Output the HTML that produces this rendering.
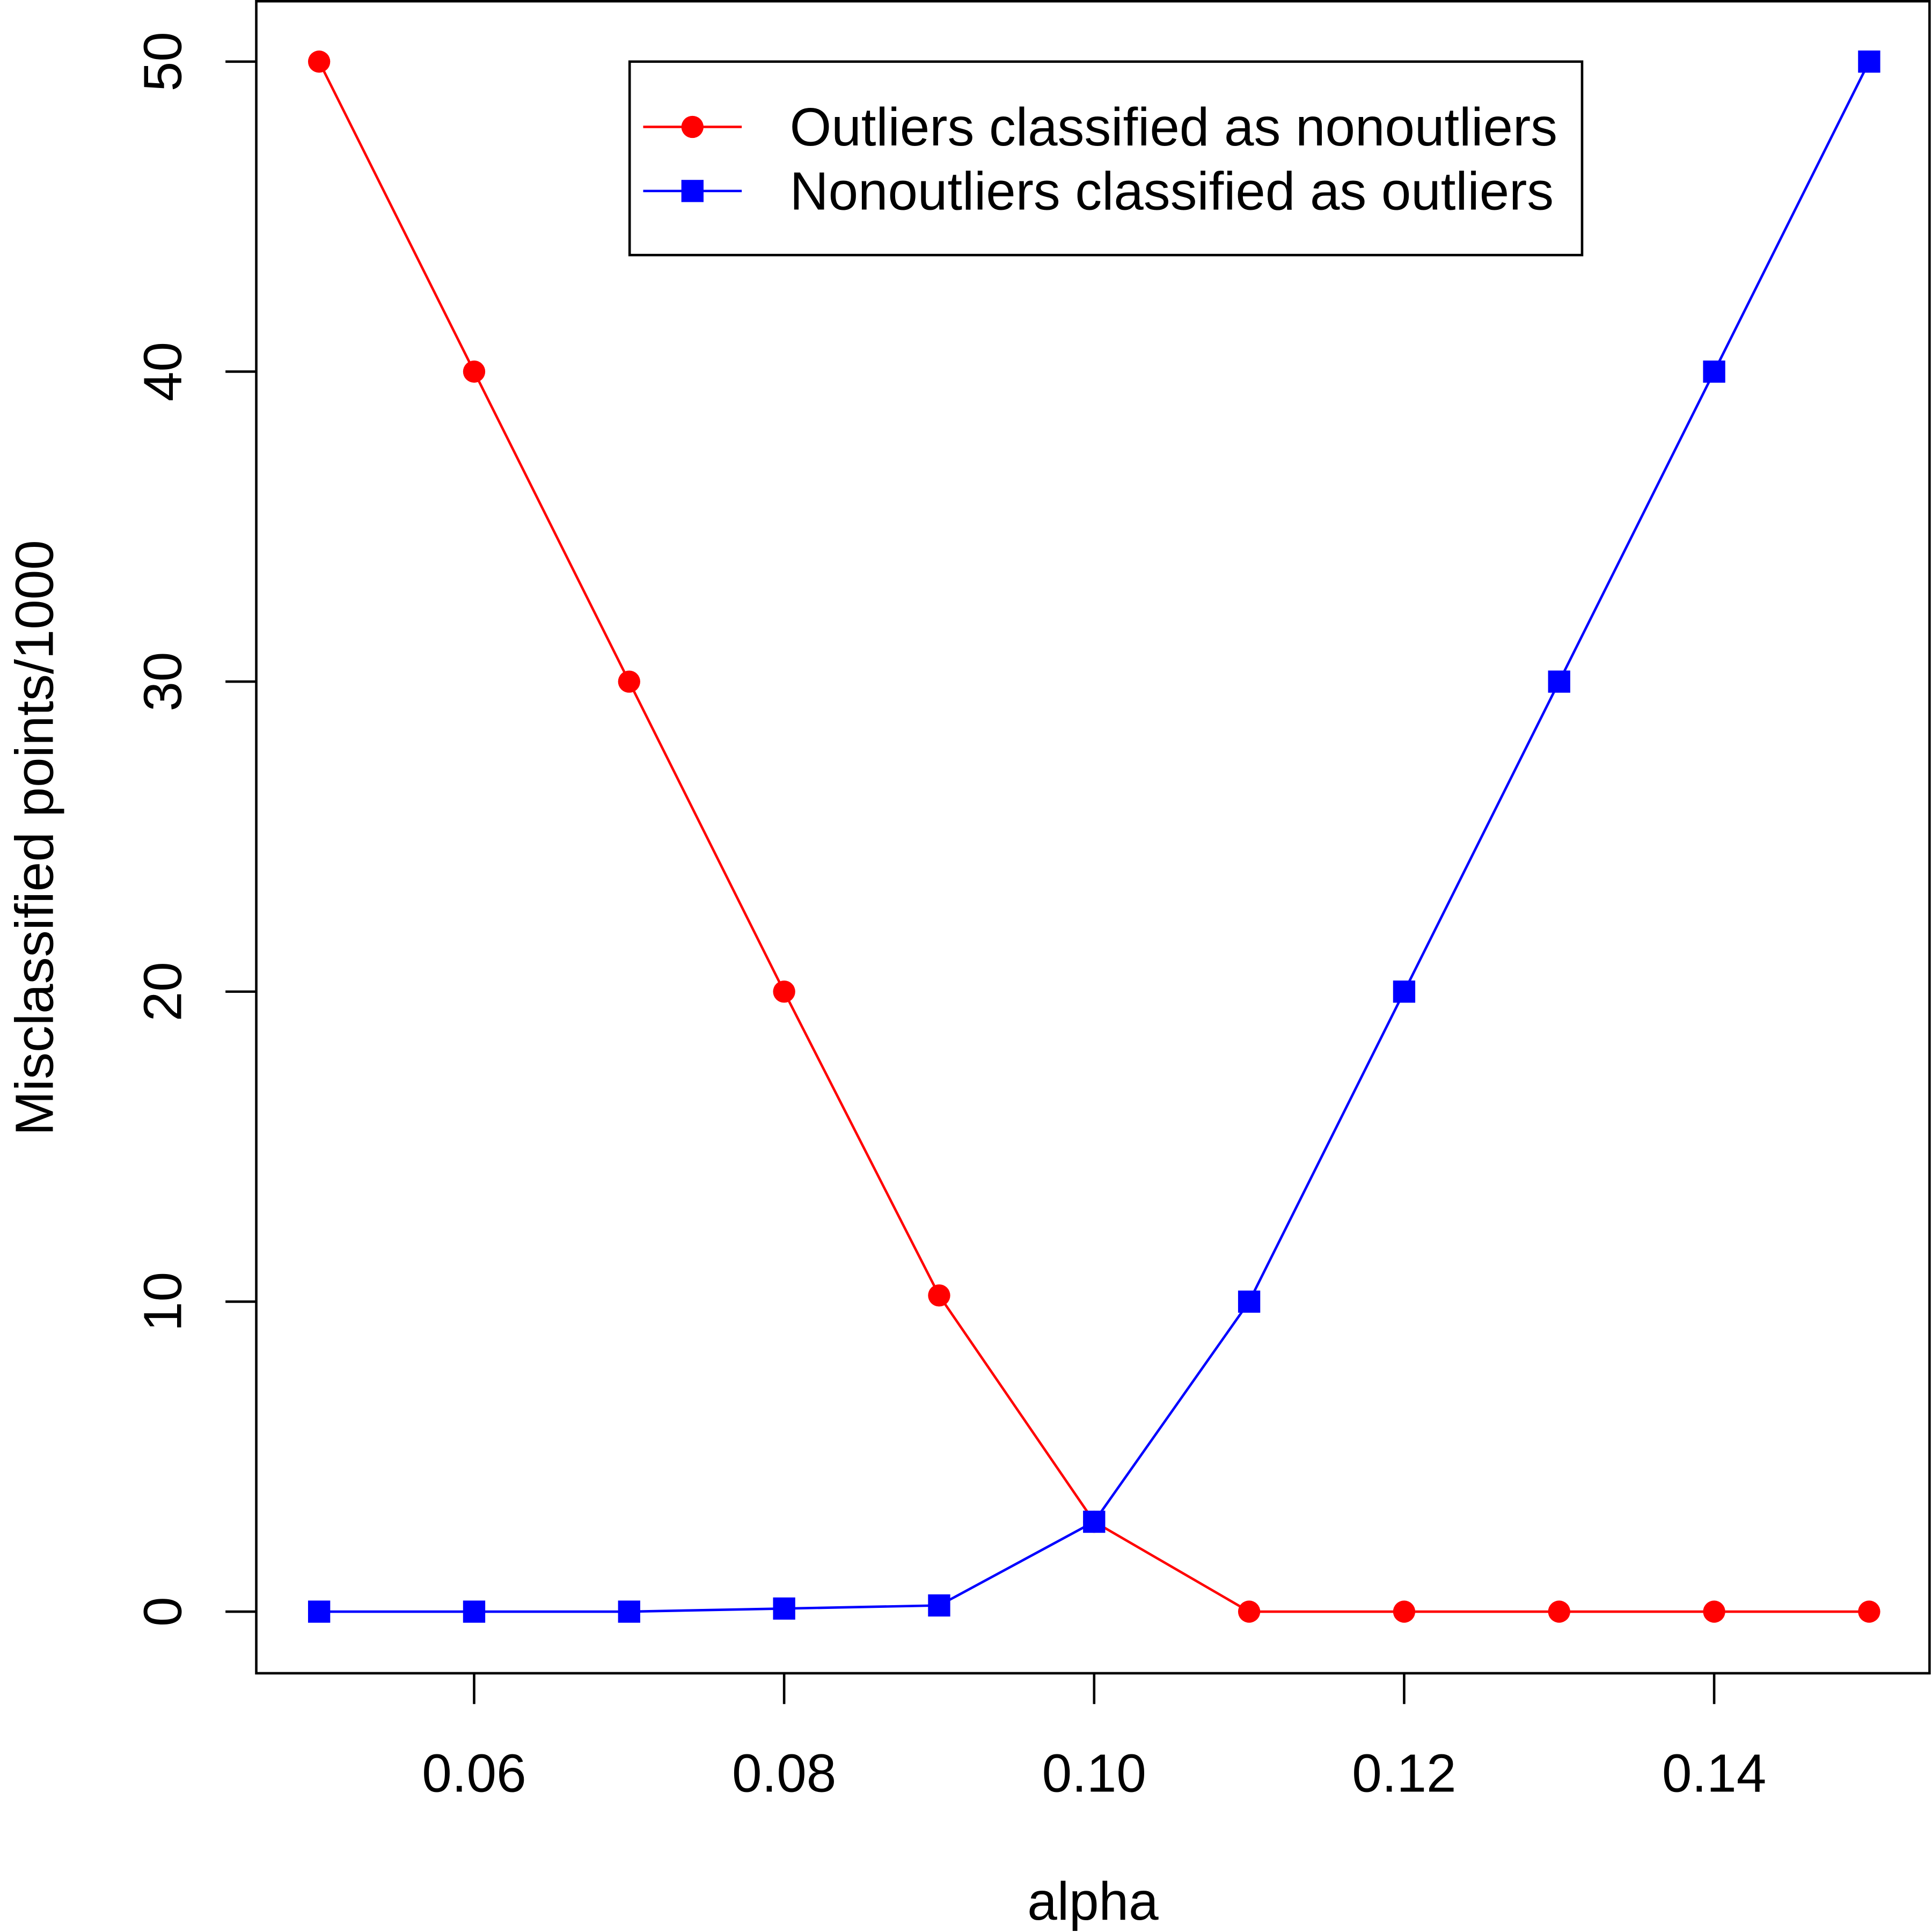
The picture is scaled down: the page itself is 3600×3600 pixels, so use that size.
<!DOCTYPE html>
<html><head><meta charset="utf-8"><style>html,body{margin:0;padding:0;background:#fff}svg{display:block}text{font-family:"Liberation Sans",Arial,sans-serif;fill:#000}</style></head>
<body>
<svg id="chart" width="3600" height="3600" viewBox="0 0 1568 1568" xmlns="http://www.w3.org/2000/svg">
<rect x="0" y="0" width="1568" height="1568" fill="#fff"/>
<g id="axes"></g>
<g id="series"></g>
<g id="legend">
<rect x="511" y="50" width="773" height="157" fill="#fff" stroke="#000" stroke-width="2"/>
<g>
<line x1="522" y1="103" x2="602" y2="103" stroke="#f00" stroke-width="2"/>
<circle cx="562" cy="103" r="9" fill="#f00"/>
<text x="641" y="118" font-size="43.5" textLength="623" lengthAdjust="spacingAndGlyphs">Outliers classified as nonoutliers</text></g>
<g>
<line x1="522" y1="155" x2="602" y2="155" stroke="#00f" stroke-width="2"/>
<rect x="553" y="146" width="18" height="18" fill="#00f"/>
<text x="641" y="170" font-size="43.5" textLength="620" lengthAdjust="spacingAndGlyphs">Nonoutliers classified as outliers</text></g>
</g>
</svg>
<script>
const alphas=[0.05,0.06,0.07,0.08,0.09,0.10,0.11,0.12,0.13,0.14,0.15];
const outliersAsNon=[50,40,30,20,10.2,2.9,0,0,0,0,0];
const nonAsOutliers=[0,0,0,0.1,0.2,2.9,10,20,30,40,50];
const xTicks=[0.06,0.08,0.10,0.12,0.14];
const xTickLabels=["0.06","0.08","0.10","0.12","0.14"];
const yTicks=[0,10,20,30,40,50];
const yTickLabels=["0","10","20","30","40","50"];
const NS="http://www.w3.org/2000/svg";
const X0=259,X1=1517,Y0=1308,Y1=50;
function sx(v){return X0+(v-0.05)/(0.15-0.05)*(X1-X0);}
function sy(v){return Y0+(v-0)/(50-0)*(Y1-Y0);}
function mk(tag,attrs,parent){const e=document.createElementNS(NS,tag);for(const k in attrs)e.setAttribute(k,attrs[k]);parent.appendChild(e);return e;}
const axes=document.getElementById('axes');
const box=mk('rect',{x:208,y:1,width:1358,height:1357,fill:'none',stroke:'#000','stroke-width':2},axes);


xTicks.forEach((t,i)=>{
 const l=mk('line',{x1:sx(t),x2:sx(t),y1:1358,y2:1383,stroke:'#000','stroke-width':2},axes);
 
 
 const tx=mk('text',{x:sx(t),y:1454,'font-size':43.5,'text-anchor':'middle'},axes);
 tx.textContent=xTickLabels[i];
 
 
});
yTicks.forEach((t,i)=>{
 const l=mk('line',{x1:183,x2:208,y1:sy(t),y2:sy(t),stroke:'#000','stroke-width':2},axes);
 
 
 const tx=mk('text',{x:0,y:0,'font-size':43.5,'text-anchor':'middle',transform:`translate(147,${sy(t)}) rotate(-90)`},axes);
 tx.textContent=yTickLabels[i];
 
 
});
const xt=mk('text',{x:887,y:1558,'font-size':43.5,'text-anchor':'middle'},axes);
xt.textContent='alpha';


const yt=mk('text',{x:0,y:0,'font-size':43.5,'text-anchor':'middle',transform:'translate(43,680) rotate(-90)'},axes);
yt.textContent='Misclassified points/1000';


const ser=document.getElementById('series');
function drawSeries(vals,color,shape,name){
 const g=mk('g',{},ser);
 
 
 const pts=alphas.map((a,i)=>sx(a)+','+sy(vals[i])).join(' ');
 const pl=mk('polyline',{points:pts,fill:'none',stroke:color,'stroke-width':2},g);
 
 
 alphas.forEach((a,i)=>{
  let p;
  if(shape==='circle')p=mk('circle',{cx:sx(a),cy:sy(vals[i]),r:9,fill:color},g);
  else p=mk('rect',{x:sx(a)-9,y:sy(vals[i])-9,width:18,height:18,fill:color},g);
  
  
 });
}
drawSeries(outliersAsNon,'#f00','circle','outliers-series');
drawSeries(nonAsOutliers,'#00f','square','nonoutliers-series');
</script>
</body></html>
